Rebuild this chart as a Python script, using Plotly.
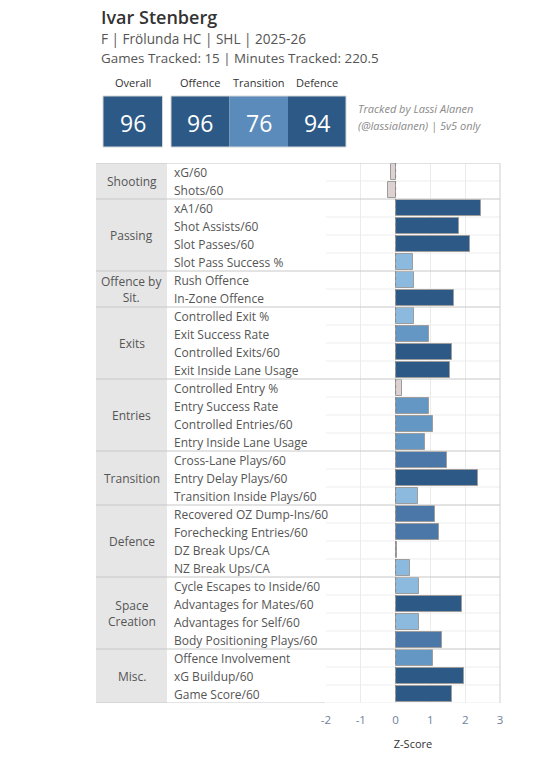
import plotly.graph_objects as go

# ---------------- data ----------------
player = "Ivar Stenberg"
subtitle = "F | Frölunda HC | SHL | 2025-26"
tracked = "Games Tracked: 15 | Minutes Tracked: 220.5"
credit_1 = "Tracked by Lassi Alanen"
credit_2 = "(@lassialanen) | 5v5 only"

rating_labels = ["Overall", "Offence", "Transition", "Defence"]
rating_values = [96, 96, 76, 94]

groups = ["Shooting", "Passing", "Offence by<br>Sit.", "Exits", "Entries",
          "Transition", "Defence", "Space<br>Creation", "Misc."]
group_sizes = [2, 4, 2, 4, 4, 3, 4, 4, 3]

metrics = [
    "xG/60", "Shots/60",
    "xA1/60", "Shot Assists/60", "Slot Passes/60", "Slot Pass Success %",
    "Rush Offence", "In-Zone Offence",
    "Controlled Exit %", "Exit Success Rate", "Controlled Exits/60", "Exit Inside Lane Usage",
    "Controlled Entry %", "Entry Success Rate", "Controlled Entries/60", "Entry Inside Lane Usage",
    "Cross-Lane Plays/60", "Entry Delay Plays/60", "Transition Inside Plays/60",
    "Recovered OZ Dump-Ins/60", "Forechecking Entries/60", "DZ Break Ups/CA", "NZ Break Ups/CA",
    "Cycle Escapes to Inside/60", "Advantages for Mates/60", "Advantages for Self/60",
    "Body Positioning Plays/60",
    "Offence Involvement", "xG Buildup/60", "Game Score/60",
]
zscores = [
    -0.12, -0.22,
    2.45, 1.82, 2.14, 0.50,
    0.53, 1.67,
    0.53, 0.97, 1.62, 1.56,
    0.19, 0.97, 1.07, 0.84,
    1.48, 2.37, 0.64,
    1.13, 1.25, 0.04, 0.42,
    0.66, 1.91, 0.66, 1.33,
    1.07, 1.96, 1.62,
]
x_ticks = [-2, -1, 0, 1, 2, 3]
x_tick_text = ["-2", "-1", "0", "1", "2", "3"]

# ---------------- layout helpers ----------------
W, H = 556, 766
L, R, T, B = 326, 500, 163, 703
n = len(metrics)


def px(x):
    return (x - L) / (R - L)


def py(y):
    return (B - y) / (B - T)


FONT = "Open Sans"
TXT = "#555555"

stepped = [
    [0.0, "#ddd1d1"], [0.325, "#ddd1d1"],
    [0.325, "#8cb9de"], [0.4375, "#8cb9de"],
    [0.4375, "#6497c4"], [0.525, "#6497c4"],
    [0.525, "#4a77a8"], [0.63, "#4a77a8"],
    [0.63, "#2d5986"], [1.0, "#2d5986"],
]

fig = go.Figure(go.Bar(
    x=zscores, y=list(range(n)), orientation="h", width=0.86,
    marker=dict(color=zscores, colorscale=stepped, cmin=-1, cmax=3,
                line=dict(color="#9d9d9d", width=1)),
    hovertext=metrics, hoverinfo="text+x",
))

shapes = []
annotations = []

# category column background
shapes.append(dict(type="rect", xref="paper", yref="y", x0=px(96), x1=px(167),
                    y0=-0.5, y1=n - 0.5, fillcolor="#e6e6e6", line=dict(width=0), layer="below"))

# group boundaries
bounds = [0]
for s in group_sizes:
    bounds.append(bounds[-1] + s)
for b in bounds:
    shapes.append(dict(type="line", xref="paper", yref="y", x0=px(96), x1=1 if b < n else px(325),
                        y0=b - 0.5, y1=b - 0.5, line=dict(color="#c8c8c8", width=1), layer="above"))
# row gridlines in plot area
for i in range(1, n + 1):
    if i in bounds and i != n:
        continue
    shapes.append(dict(type="line", xref="paper", yref="y", x0=0, x1=1,
                        y0=i - 0.5, y1=i - 0.5, line=dict(color="#ededed", width=1), layer="below"))
# right border of plot
shapes.append(dict(type="line", xref="paper", yref="y", x0=1, x1=1, y0=-0.5, y1=n - 0.5,
                    line=dict(color="#d0d0d0", width=1), layer="above"))
# dotted zero line
shapes.append(dict(type="line", xref="x", yref="y", x0=0, x1=0, y0=-0.5, y1=n - 0.5,
                    line=dict(color="#8a8a8a", width=1, dash="dot"), layer="above"))

# metric labels
for i, m in enumerate(metrics):
    annotations.append(dict(xref="paper", yref="y", x=px(172), y=i, text=m, showarrow=False,
                            xanchor="left", yanchor="middle",
                            font=dict(family=FONT, size=12, color=TXT)))
# group labels
for g, a, b in zip(groups, bounds[:-1], bounds[1:]):
    annotations.append(dict(xref="paper", yref="y", x=px(131.5), y=(a + b - 1) / 2, text=g,
                            showarrow=False, xanchor="center", yanchor="middle", align="center",
                            font=dict(family=FONT, size=12, color=TXT)))

# header
annotations.append(dict(xref="paper", yref="paper", x=px(99), y=py(17), text=player, showarrow=False,
                        xanchor="left", yanchor="middle",
                        font=dict(family=FONT, size=18, color="#333333", weight=600)))
annotations.append(dict(xref="paper", yref="paper", x=px(99), y=py(38.5), text=subtitle, showarrow=False,
                        xanchor="left", yanchor="middle",
                        font=dict(family=FONT, size=13.6, color=TXT)))
annotations.append(dict(xref="paper", yref="paper", x=px(99), y=py(58), text=tracked, showarrow=False,
                        xanchor="left", yanchor="middle",
                        font=dict(family=FONT, size=13.4, color=TXT)))

# rating boxes
box_x = [(103, 162.5), (171, 229.5), (229.5, 288), (288, 346)]
box_colors = ["#2d5986", "#2d5986", "#5a8bba", "#2d5986"]
for (x0, x1), lab, val, c in zip(box_x, rating_labels, rating_values, box_colors):
    shapes.append(dict(type="rect", xref="paper", yref="paper", x0=px(x0), x1=px(x1),
                        y0=py(147), y1=py(96), fillcolor=c, line=dict(width=0)))
    annotations.append(dict(xref="paper", yref="paper", x=px((x0 + x1) / 2), y=py(82), text=lab,
                            showarrow=False, xanchor="center", yanchor="middle",
                            font=dict(family=FONT, size=11, color="#333333")))
    annotations.append(dict(xref="paper", yref="paper", x=px((x0 + x1) / 2), y=py(122.5), text=str(val),
                            showarrow=False, xanchor="center", yanchor="middle",
                            font=dict(family=FONT, size=23, color="#ffffff")))
# box outlines
for x0, x1 in [(103, 162.5), (171, 346)]:
    shapes.append(dict(type="rect", xref="paper", yref="paper", x0=px(x0), x1=px(x1),
                        y0=py(147), y1=py(96), line=dict(color="#d6d6d6", width=1)))

annotations.append(dict(xref="paper", yref="paper", x=px(356), y=py(109), text=credit_1, showarrow=False,
                        xanchor="left", yanchor="middle",
                        font=dict(family=FONT, size=11, color="#8a8a8a", style="italic")))
annotations.append(dict(xref="paper", yref="paper", x=px(356), y=py(125.5), text=credit_2, showarrow=False,
                        xanchor="left", yanchor="middle",
                        font=dict(family=FONT, size=11, color="#8a8a8a", style="italic")))

fig.update_layout(
    width=W, height=H, margin=dict(l=L, r=W - R, t=T, b=H - B, pad=0),
    paper_bgcolor="white", plot_bgcolor="white", showlegend=False,
    shapes=shapes, annotations=annotations, bargap=0,
    font=dict(family=FONT),
    xaxis=dict(range=[-2, 3], tickvals=x_ticks, ticktext=x_tick_text, showgrid=True,
               gridcolor="#ebebeb", gridwidth=1, zeroline=False, showline=False,
               ticks="", ticklabelstandoff=8,
               tickfont=dict(family=FONT, size=11.5, color="#6f7f9c"),
               title=dict(text="Z-Score", standoff=14,
                          font=dict(family=FONT, size=11, color="#333333")),
               fixedrange=True),
    yaxis=dict(range=[n - 0.5, -0.5], showticklabels=False, showgrid=False, zeroline=False,
               showline=False, fixedrange=True),
)

fig.write_html("out.html")
